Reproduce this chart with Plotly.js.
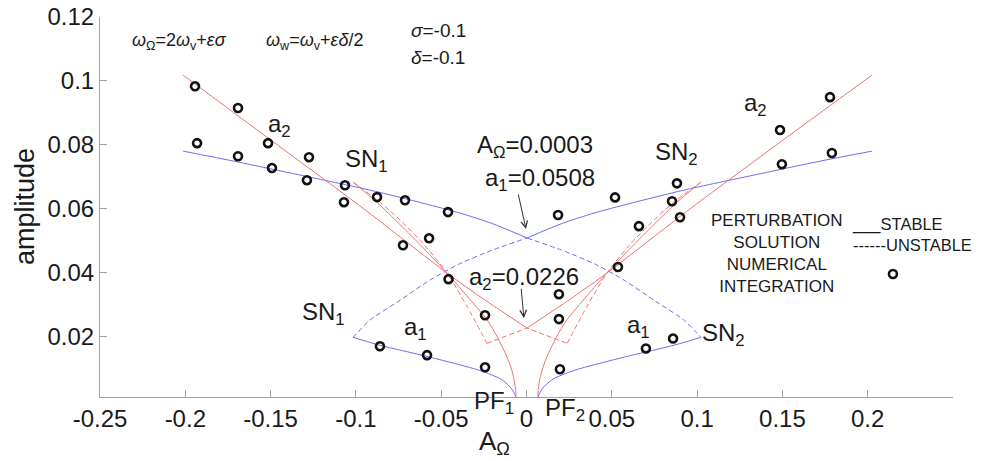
<!DOCTYPE html>
<html>
<head>
<meta charset="utf-8">
<script src="https://cdn.plot.ly/plotly-3.0.1.min.js"></script>
<style>
  html, body { margin: 0; padding: 0; background: #ffffff; }
  #chart { width: 983px; height: 461px; }
</style>
</head>
<body>
<div id="chart"></div>
<script>
// ---- a1 branch (blue), perturbation solution ----
const a1StableUpperLeftX  = [-0.2013, -0.17, -0.1327, -0.0917, -0.06, -0.039, -0.02, 0.0003];
const a1StableUpperLeftY  = [0.0780, 0.0747, 0.0705, 0.0658, 0.0616, 0.0586, 0.0553, 0.0508];
const a1StableUpperRightX = [0.0003, 0.0206, 0.0396, 0.0606, 0.0923, 0.1333, 0.1706, 0.2025];
const a1StableUpperRightY = [0.0508, 0.0553, 0.0586, 0.0616, 0.0658, 0.0705, 0.0747, 0.0780];

const a1StableLowerLeftX  = [-0.1017, -0.0859, -0.0583, -0.0273, -0.015, -0.0097, -0.0072, -0.0062];
const a1StableLowerLeftY  = [0.0197, 0.0172, 0.0137, 0.0093, 0.0066, 0.0042, 0.0022, 0.0010];
const a1StableLowerRightX = [0.0067, 0.0077, 0.0102, 0.0155, 0.0278, 0.0588, 0.0864, 0.1022];
const a1StableLowerRightY = [0.0010, 0.0022, 0.0042, 0.0066, 0.0093, 0.0137, 0.0172, 0.0197];

const a1UnstableLeftX  = [-0.1017, -0.0985, -0.092, -0.075, -0.0566, -0.04, -0.02, 0.0003];
const a1UnstableLeftY  = [0.0197, 0.0215, 0.0250, 0.0310, 0.0376, 0.0425, 0.0470, 0.0508];
const a1UnstableRightX = [0.0003, 0.0206, 0.0406, 0.0572, 0.0756, 0.0926, 0.0991, 0.1022];
const a1UnstableRightY = [0.0508, 0.0470, 0.0425, 0.0376, 0.0310, 0.0250, 0.0215, 0.0197];

// ---- a2 branch (red), perturbation solution ----
const a2StableOuterLeftX  = [-0.2013, -0.1515, -0.0958, -0.0466, -0.025, 0.0003];
const a2StableOuterLeftY  = [0.1018, 0.0821, 0.0601, 0.0398, 0.0316, 0.0226];
const a2StableOuterRightX = [0.0003, 0.0255, 0.0471, 0.0963, 0.152, 0.2025];
const a2StableOuterRightY = [0.0226, 0.0316, 0.0398, 0.0601, 0.0821, 0.1018];

const a2StablePF1X = [-0.1017, -0.0877, -0.0742, -0.06, -0.0466, -0.035, -0.0232, -0.017, -0.0114, -0.0085, -0.007, -0.0063, -0.0062];
const a2StablePF1Y = [0.0683, 0.0620, 0.0550, 0.0474, 0.0398, 0.0327, 0.0252, 0.0197, 0.0135, 0.0092, 0.0057, 0.0030, 0.0010];
const a2StablePF2X = [0.0067, 0.0068, 0.0075, 0.009, 0.0119, 0.0175, 0.0237, 0.0355, 0.0471, 0.0605, 0.0747, 0.0882, 0.1022];
const a2StablePF2Y = [0.0010, 0.0030, 0.0057, 0.0092, 0.0135, 0.0197, 0.0252, 0.0327, 0.0398, 0.0474, 0.0550, 0.0620, 0.0683];

const a2UnstableLeftX   = [-0.1017, -0.0877, -0.0742, -0.06, -0.0466, -0.035, -0.0232];
const a2UnstableLeftY   = [0.0683, 0.0628, 0.0565, 0.0487, 0.0398, 0.0295, 0.0178];
const a2UnstableMiddleX = [-0.0232, 0.0003, 0.0238];
const a2UnstableMiddleY = [0.0178, 0.0226, 0.0178];
const a2UnstableRightX  = [0.0238, 0.0356, 0.0472, 0.0606, 0.0748, 0.0883, 0.1022];
const a2UnstableRightY  = [0.0178, 0.0295, 0.0398, 0.0487, 0.0565, 0.0628, 0.0683];

// ---- numerical integration ----
const numericalX = [-0.1943, -0.1691, -0.1515, -0.1275, -0.1064, -0.1931, -0.1691, -0.1492, -0.1287, -0.1070,
                    -0.0876, -0.0712, -0.0460, -0.0724, -0.0571, -0.0457, -0.0243, -0.0243, -0.0583, -0.0859,
                    0.0185, 0.0190, 0.0190, 0.0196, 0.0519, 0.0659, 0.0536, 0.0882, 0.0853, 0.0900,
                    0.0700, 0.0859, 0.1486, 0.1779, 0.1497, 0.1790];
const numericalY = [0.0983, 0.0915, 0.0805, 0.0761, 0.0673, 0.0805, 0.0764, 0.0727, 0.0689, 0.0620,
                    0.0636, 0.0626, 0.0589, 0.0485, 0.0507, 0.0379, 0.0266, 0.0103, 0.0141, 0.0169,
                    0.0580, 0.0332, 0.0254, 0.0097, 0.0635, 0.0545, 0.0417, 0.0679, 0.0623, 0.0573,
                    0.0162, 0.0193, 0.0846, 0.0949, 0.0739, 0.0774];

// ---- axis ticks ----
const xTickVals = [-0.25, -0.2, -0.15, -0.1, -0.05, 0, 0.05, 0.1, 0.15, 0.2];
const xTickText = ['-0.25', '-0.2', '-0.15', '-0.1', '-0.05', '0', '0.05', '0.1', '0.15', '0.2'];
const yTickVals = [0.02, 0.04, 0.06, 0.08, 0.1, 0.12];
const yTickText = ['0.02', '0.04', '0.06', '0.08', '0.1', '0.12'];

const RED = '#f07272';
const BLUE = '#6d6df2';
const DASH = '5px,3px';
const FONT = 'Liberation Sans, Arial, Helvetica, sans-serif';
const TEXT = '#1a1a1a';

function curve(x, y, color, dashed, smooth) {
  return {
    x: x, y: y, type: 'scatter', mode: 'lines', hoverinfo: 'skip',
    line: { color: color, width: 1, dash: dashed ? DASH : 'solid', shape: smooth ? 'spline' : 'linear', smoothing: 0.7 }
  };
}

const traces = [
  curve(a1StableUpperLeftX, a1StableUpperLeftY, BLUE, false, true),
  curve(a1StableUpperRightX, a1StableUpperRightY, BLUE, false, true),
  curve(a1StableLowerLeftX, a1StableLowerLeftY, BLUE, false, true),
  curve(a1StableLowerRightX, a1StableLowerRightY, BLUE, false, true),
  curve(a1UnstableLeftX, a1UnstableLeftY, BLUE, true, true),
  curve(a1UnstableRightX, a1UnstableRightY, BLUE, true, true),
  curve(a2StableOuterLeftX, a2StableOuterLeftY, RED, false, true),
  curve(a2StableOuterRightX, a2StableOuterRightY, RED, false, true),
  curve(a2StablePF1X, a2StablePF1Y, RED, false, true),
  curve(a2StablePF2X, a2StablePF2Y, RED, false, true),
  curve(a2UnstableLeftX, a2UnstableLeftY, RED, true, true),
  curve(a2UnstableMiddleX, a2UnstableMiddleY, RED, true, false),
  curve(a2UnstableRightX, a2UnstableRightY, RED, true, true),
  {
    x: numericalX, y: numericalY, type: 'scatter', mode: 'markers', hoverinfo: 'skip',
    marker: { symbol: 'circle-open', size: 8, color: '#111111', line: { width: 2.6, color: '#111111' } }
  }
];

function label(text, x, y, size, extra) {
  return Object.assign({
    text: text, x: x, y: y, xref: 'x', yref: 'y', showarrow: false,
    xanchor: 'left', yanchor: 'middle',
    font: { family: FONT, size: size, color: TEXT }
  }, extra || {});
}

function arrow(xHead, yHead, xTail, yTail) {
  return {
    text: '', x: xHead, y: yHead, ax: xTail, ay: yTail,
    xref: 'x', yref: 'y', axref: 'x', ayref: 'y',
    showarrow: true, arrowhead: 5, arrowsize: 1.3, arrowwidth: 1, arrowcolor: '#333333', standoff: 0
  };
}

const annotations = [
  label('<i>ω</i><sub>Ω</sub>=2<i>ω</i><sub>v</sub>+<i>εσ</i>', -0.2324, 0.1122, 18),
  label('<i>ω</i><sub>w</sub>=<i>ω</i><sub>v</sub>+<i>εδ</i>/2', -0.1539, 0.1122, 18),
  label('<i>σ</i>=-0.1', -0.0689, 0.1159, 19),
  label('<i>δ</i>=-0.1', -0.0689, 0.1074, 19),
  label('a<sub>2</sub>', -0.1527, 0.0859, 24),
  label('SN<sub>1</sub>', -0.1075, 0.0752, 24),
  label('A<sub>Ω</sub>=0.0003', -0.0302, 0.0796, 24),
  label('a<sub>1</sub>=0.0508', -0.0255, 0.0690, 24),
  label('SN<sub>2</sub>', 0.0741, 0.0772, 24),
  label('a<sub>2</sub>', 0.1263, 0.0926, 24),
  label('a<sub>2</sub>=0.0226', -0.0349, 0.0380, 24),
  label('SN<sub>1</sub>', -0.1328, 0.0272, 24),
  label('a<sub>1</sub>', -0.0730, 0.0226, 24),
  label('a<sub>1</sub>', 0.0577, 0.0232, 24),
  label('SN<sub>2</sub>', 0.1017, 0.0206, 24),
  label('PF<sub>1</sub>', -0.0319, -0.0132, 24, { yref: 'paper' }),
  label('PF<sub>2</sub>', 0.0097, -0.0342, 24, { yref: 'paper' }),
  label('PERTURBATION<br>SOLUTION<br>NUMERICAL<br>INTEGRATION', 0.1469, 0.0458, 17, { xanchor: 'center', align: 'center' }),
  label('___STABLE<br>------UNSTABLE', 0.1896, 0.0519, 16.5, { align: 'left' }),
  arrow(-0.0003, 0.0536, -0.0050, 0.0649),
  arrow(-0.0015, 0.0257, -0.0032, 0.0354),
  // axis titles
  {
    text: 'amplitude', xref: 'paper', yref: 'paper', x: -0.0879, y: 0.5,
    xanchor: 'center', yanchor: 'middle', textangle: -90, showarrow: false,
    font: { family: FONT, size: 27, color: TEXT }
  },
  {
    text: 'A<sub>Ω</sub>', xref: 'paper', yref: 'paper', x: 0.463, y: -0.072,
    xanchor: 'center', yanchor: 'top', showarrow: false,
    font: { family: FONT, size: 26, color: TEXT }
  }
];

const shapes = [
  // legend symbol for the numerical-integration markers
  {
    type: 'circle', xref: 'x', yref: 'y', xsizemode: 'pixel', ysizemode: 'pixel',
    xanchor: 0.2148, yanchor: 0.0395, x0: -4, x1: 4, y0: -4, y1: 4,
    line: { color: '#111111', width: 2.6 }, fillcolor: 'rgba(0,0,0,0)'
  }
];

const axisCommon = {
  showgrid: false, zeroline: false, showline: true, linecolor: '#a3a3a3', linewidth: 1,
  ticks: 'inside', ticklen: 7, tickwidth: 1, tickcolor: '#a3a3a3', mirror: false,
  tickfont: { family: FONT, size: 24, color: TEXT }, tickmode: 'array', fixedrange: true
};

const layout = {
  width: 983, height: 461,
  margin: { l: 100, r: 30, t: 17, b: 64, pad: 0 },
  paper_bgcolor: '#ffffff', plot_bgcolor: '#ffffff',
  showlegend: false, hovermode: false,
  xaxis: Object.assign({}, axisCommon, { range: [-0.25, 0.25], tickvals: xTickVals, ticktext: xTickText }),
  yaxis: Object.assign({}, axisCommon, { range: [0.001, 0.12], tickvals: yTickVals, ticktext: yTickText }),
  annotations: annotations,
  shapes: shapes
};

Plotly.newPlot('chart', traces, layout, { staticPlot: true, displayModeBar: false });
</script>
</body>
</html>
